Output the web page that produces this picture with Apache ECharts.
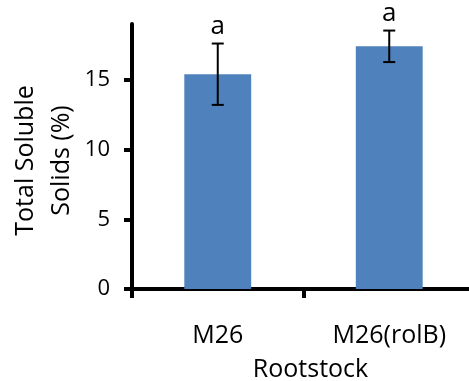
<!DOCTYPE html>
<html>
<head>
<meta charset="utf-8">
<script src="https://cdn.jsdelivr.net/npm/echarts@6/dist/echarts.min.js"></script>
<style>
html,body{margin:0;padding:0;background:#fff;}
#chart{width:469px;height:381px;}
</style>
</head>
<body>
<div id="chart"></div>
<script>
const categories = ['M26', 'M26(rolB)'];
const means = [15.4, 17.4];
const errors = [2.2, 1.13];
const letters = ['a', 'a'];
const yTickValues = [0, 5, 10, 15];
const yMax = 19;

const FONT = 'Open Sans';
const chart = echarts.init(document.getElementById('chart'), null, {renderer: 'canvas'});

const errData = categories.map((c, i) => [i, means[i] - errors[i], means[i] + errors[i], letters[i]]);

chart.setOption({
  animation: false,
  grid: {left: 132, right: -6, top: 24, bottom: 92, containLabel: false, outerBoundsMode: 'none'},
  xAxis: {
    type: 'category',
    data: categories,
    name: 'Rootstock',
    nameLocation: 'middle',
    nameGap: 68,
    nameMoveOverlap: false,
    nameTextStyle: {fontFamily: FONT, fontSize: 25, color: '#000', padding: [0, 0, 0, 14]},
    axisLine: {lineStyle: {color: '#000', width: 4}},
    axisTick: {show: true, length: 9, lineStyle: {color: '#000', width: 4}},
    axisLabel: {fontFamily: FONT, fontSize: 25, color: '#000', margin: 34}
  },
  yAxis: {
    type: 'value',
    min: 0,
    max: yMax,
    interval: 5,
    name: 'Total Soluble\nSolids (%)',
    nameLocation: 'middle',
    nameGap: 52,
    nameMoveOverlap: false,
    nameRotate: 90,
    nameTextStyle: {fontFamily: FONT, fontSize: 25, color: '#000', lineHeight: 36, align: 'center', padding: [0, 8, 0, 0]},
    splitLine: {show: false},
    axisLine: {show: true, lineStyle: {color: '#000', width: 4}},
    axisTick: {show: true, length: 8, lineStyle: {color: '#000', width: 4}, customValues: yTickValues},
    axisLabel: {fontFamily: FONT, fontSize: 22, color: '#000', margin: 22, customValues: yTickValues}
  },
  series: [
    {
      type: 'bar',
      data: means,
      barWidth: '39%',
      itemStyle: {color: '#4F81BD'},
      z: 1
    },
    {
      type: 'custom',
      data: errData,
      z: 5,
      renderItem: function (params, api) {
        const x = api.value(0);
        const lo = api.coord([x, api.value(1)]);
        const hi = api.coord([x, api.value(2)]);
        const half = 6;
        const style = {stroke: '#000', lineWidth: 2};
        return {
          type: 'group',
          children: [
            {type: 'line', shape: {x1: hi[0], y1: hi[1], x2: lo[0], y2: lo[1]}, style: style},
            {type: 'line', shape: {x1: hi[0] - half, y1: hi[1], x2: hi[0] + half, y2: hi[1]}, style: style},
            {type: 'line', shape: {x1: lo[0] - half, y1: lo[1], x2: lo[0] + half, y2: lo[1]}, style: style},
            {type: 'text', x: hi[0], y: hi[1] - 4,
              style: {text: letters[params.dataIndex], fill: '#000', fontFamily: FONT, fontSize: 26,
                      align: 'center', verticalAlign: 'bottom'}}
          ]
        };
      }
    }
  ]
});
</script>
</body>
</html>
